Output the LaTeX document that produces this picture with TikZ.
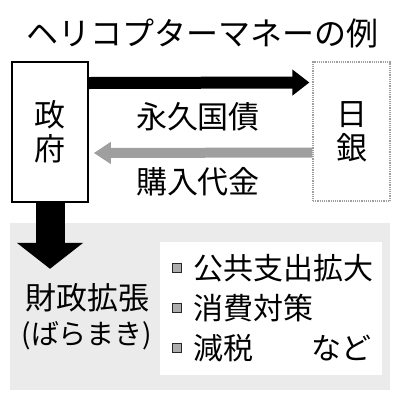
\documentclass[tikz,border=0pt]{standalone}
\usepackage{fontspec}
\setmainfont{Noto Sans CJK JP}
\usetikzlibrary{arrows.meta}

\begin{document}
\begin{tikzpicture}[x=1pt,y=-1pt,
  bigtext/.style={inner sep=0pt,font=\fontsize{31}{34}\selectfont},
  listtext/.style={inner sep=0pt,anchor=west,font=\fontsize{30}{34}\selectfont},
  bullet/.style={draw=black!85,fill=gray!65,line width=0.9pt,minimum size=9pt,inner sep=0pt}]
\useasboundingbox (0,0) rectangle (400,400);
\fill[gray!16] (10,223) rectangle (390,390);
\fill[white] (160,242) rectangle (382,375);
\node[bigtext,font=\fontsize{32}{34}\selectfont] (title) at (203,33) {ヘリコプターマネーの例};
\node[draw,line width=1.6pt,minimum width=76pt,minimum height=140pt,inner sep=0pt,align=center,bigtext] (seifu) at (50,132) {政\\府};
\node[draw=gray!75,densely dotted,line width=1.2pt,minimum width=77pt,minimum height=139pt,inner sep=0pt,align=center,bigtext] (nichigin) at (351.5,131.5) {日\\銀};
\node[bigtext] (kokusai) at (198,117) {永久国債};
\node[bigtext] (daikin) at (198,182) {購入代金};
\draw[line width=12pt,-{Triangle[length=17pt,width=25pt]}] ([yshift=49pt]seifu.east) -- ([yshift=49pt,xshift=-3pt]nichigin.west);
\draw[gray!75,line width=10pt,-{Triangle[length=17pt,width=21pt]}] ([yshift=-21pt]nichigin.west) -- ([yshift=-21pt,xshift=5pt]seifu.east);
\draw[line width=29pt,-{Triangle[length=26pt,width=65pt]}] (seifu.south) -- ([yshift=-66pt]seifu.south);
\node[bigtext] (kakucho) at (88,298) {財政拡張};
\node[bigtext,font=\fontsize{28}{30}\selectfont] (baramaki) at (87,336) {(ばらまき)};
\node[listtext] (kokyo) at (193,268) {公共支出拡大};
\node[listtext] (shohi) at (193,308) {消費対策};
\node[listtext] (genzei) at (193,348) {減税};
\node[listtext,anchor=east] (nado) at (372,348) {など};
\node[bullet] (b1) at ([xshift=-16pt]kokyo.west) {};
\node[bullet] (b2) at ([xshift=-16pt]shohi.west) {};
\node[bullet] (b3) at ([xshift=-16pt]genzei.west) {};
\end{tikzpicture}
\end{document}
